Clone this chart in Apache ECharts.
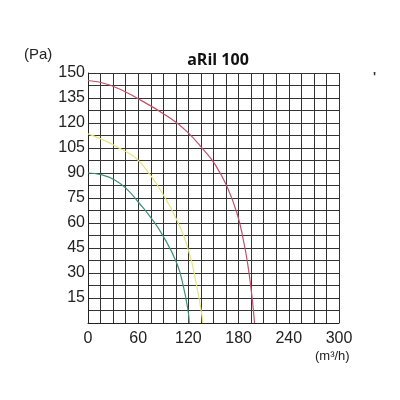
<!DOCTYPE html>
<html>
<head>
<meta charset="utf-8">
<script src="https://cdn.jsdelivr.net/npm/echarts@6/dist/echarts.min.js"></script>
<style>
  html, body { margin: 0; padding: 0; background: #fff; }
  #chart { width: 400px; height: 400px; }
</style>
</head>
<body>
<div id="chart"></div>
<script>
// fan curves, airflow (m3/h) vs pressure (Pa)
const redFlow = [0, 26, 62, 98, 118, 138, 152, 166, 178, 186, 191, 195, 198, 199];
const redPa = [145.5, 142.8, 134, 123, 115, 104, 95, 82, 66, 49, 35, 20, 6, 0];
const yellowFlow = [0, 17.5, 37, 57, 71, 85, 106, 121, 130, 136, 137];
const yellowPa = [113.5, 110, 105, 99, 91, 81, 62, 42, 22, 5, 0];
const greenFlow = [0, 15.5, 31.5, 47, 61, 74, 90, 106, 114, 120, 121];
const greenPa = [90, 89, 86, 80, 72, 64, 52, 36, 22, 6, 0];

const xTicks = [0, 60, 120, 180, 240, 300];
const yTicks = [15, 30, 45, 60, 75, 90, 105, 120, 135, 150];

const chart = echarts.init(document.getElementById("chart"));

function pairs(xs, ys) {
  return xs.map((x, i) => [x, ys[i]]);
}

const lineSeries = (data, color) => ({
  type: "line",
  data: data,
  smooth: 0.5,
  showSymbol: false,
  lineStyle: { color: color, width: 1.2 },
  z: 5
});

chart.setOption({
  animation: false,
  title: {
    text: "aRil 100",
    left: 213,
    top: 47,
    textAlign: "center",
    textStyle: { fontFamily: "Open Sans", fontWeight: "bold", fontSize: 16, color: "#111" }
  },
  grid: { left: 88, right: 61, top: 73, bottom: 77 },
  xAxis: {
    type: "value",
    min: 0,
    max: 300,
    interval: 15,
    axisLine: { lineStyle: { color: "#222", width: 1 } },
    axisTick: { show: false },
    splitLine: { show: true, lineStyle: { color: "#333", width: 1 } },
    axisLabel: {
      margin: 8,
      fontFamily: "Liberation Sans",
      fontSize: 16,
      color: "#222",
      formatter: v => (xTicks.includes(v) ? String(v) : "")
    }
  },
  yAxis: {
    type: "value",
    min: 0,
    max: 150,
    interval: 7.5,
    axisLine: { show: true, lineStyle: { color: "#222", width: 1 } },
    axisTick: { show: false },
    splitLine: { show: true, lineStyle: { color: "#333", width: 1 } },
    axisLabel: {
      margin: 3,
      fontFamily: "Liberation Sans",
      fontSize: 16,
      color: "#222",
      formatter: v => (yTicks.includes(v) ? String(v) : "")
    }
  },
  graphic: [
    {
      type: "text",
      left: 24,
      top: 47,
      style: { text: "(Pa)", font: "15px 'Liberation Sans'", fill: "#222" }
    },
    {
      type: "text",
      left: 315,
      top: 350,
      style: { text: "(m³/h)", font: "13px 'Liberation Sans'", fill: "#222" }
    },
    {
      type: "text",
      left: 373,
      top: 71,
      style: { text: "'", font: "bold 13px 'Liberation Sans'", fill: "#333" }
    }
  ],
  series: [
    lineSeries(pairs(redFlow, redPa), "#c44f68"),
    lineSeries(pairs(yellowFlow, yellowPa), "#e6e67a"),
    lineSeries(pairs(greenFlow, greenPa), "#3f8f78")
  ]
});
</script>
</body>
</html>
